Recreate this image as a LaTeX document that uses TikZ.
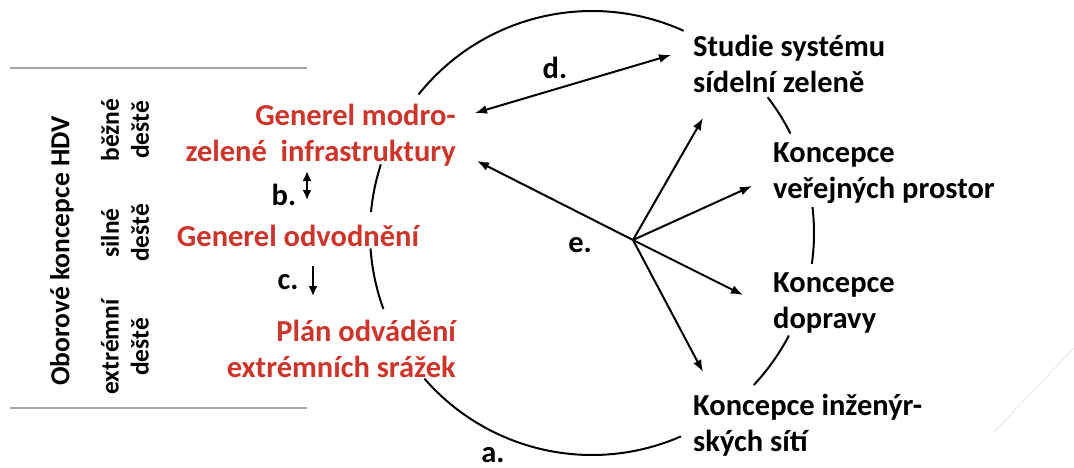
\documentclass[tikz,border=0pt]{standalone}
\usepackage{fontspec}
\setmainfont{Carlito}
\usetikzlibrary{arrows.meta}
\definecolor{tred}{RGB}{205,52,42}
\definecolor{rulegray}{RGB}{165,165,165}
\tikzset{
  big/.style={font=\fontsize{30.5}{36}\selectfont\bfseries, inner sep=0pt},
  small/.style={font=\fontsize{25.5}{30}\selectfont\bfseries, inner sep=0pt, rotate=90, align=center},
  redtxt/.style={big, text=tred},
  blktxt/.style={big, text=black, align=left, anchor=west},
  conn/.style={line width=2pt, -{Latex[length=12pt,width=9pt]}},
  dconn/.style={line width=2pt, {Latex[length=12pt,width=9pt]}-{Latex[length=12pt,width=9pt]}},
  ring/.style={line width=2pt},
  lbl/.style={big, text=black}
}
\begin{document}
\begin{tikzpicture}[x=1pt,y=1pt]
\useasboundingbox (0,0) rectangle (1074,467);
% left gray rules
\coordinate (r1a) at (10,399); \coordinate (r1b) at (307,399);
\coordinate (r2a) at (10,59);  \coordinate (r2b) at (307,59);
\draw[rulegray, line width=2pt] (r1a) -- (r1b);
\draw[rulegray, line width=2pt] (r2a) -- (r2b);
% rotated labels
\node[small, font=\fontsize{27.5}{30}\selectfont\bfseries] (hdv) at (62,216) {Oborové koncepce HDV};
\node[small] (bezne) at (125,337) {běžné\\deště};
\node[small] (silne) at (125,234) {silné\\deště};
\node[small] (extr) at (125,120) {extrémní\\deště};
% red nodes
\node[redtxt, align=right, anchor=east] (gmz) at (456,331.5) {Generel modro-\\zelené\ \ infrastruktury};
\node[redtxt] (go) at (298,231) {Generel odvodnění};
\node[redtxt, align=right, anchor=east] (plan) at (456,118.5) {Plán odvádění\\extrémních srážek};
% b, c arrows
\node[lbl] (b) at (284,272) {b.};
\coordinate (bt) at (307,296); \coordinate (bb) at (307,267);
\draw[line width=1.8pt, {Latex[length=10pt,width=9pt]}-{Latex[length=10pt,width=9pt]}] (bt) -- (bb);
\node[lbl] (c) at (288,185) {c.};
\coordinate (ct) at (313,201); \coordinate (cb) at (313,171);
\draw[line width=1.8pt, -{Latex[length=10pt,width=9pt]}] (ct) -- (cb);
% black nodes
\node[blktxt] (stud) at (693,403.5) {Studie systému\\sídelní zeleně};
\node[blktxt] (verej) at (773,293.5) {Koncepce\\veřejných prostor};
\node[blktxt] (dopr) at (773,163.5) {Koncepce\\dopravy};
\node[blktxt] (inz) at (693,41.5) {Koncepce inženýr-\\ských sítí};
% circle arcs
\coordinate (C) at (592,234);
\def\R{222}
\foreach \a/\b in {65.6/141.4, 26.6/37.7, -8/6.7, -43.2/-27.5, 221/293.6, 162/174.6, 184/200}{
  \draw[ring] (C) ++(\a:\R) arc[start angle=\a, end angle=\b, radius=\R];
}
% d arrow
\coordinate (dl) at (475,354); \coordinate (dr) at (671,412);
\draw[dconn] (dl) -- (dr);
\node[lbl] (d) at (555,399) {d.};
% e arrows
\coordinate (E) at (633,227);
\coordinate (e1) at (477,306);
\coordinate (e2) at (703,349);
\coordinate (e3) at (752,281);
\coordinate (e4) at (743,172);
\coordinate (e5) at (703,95);
\foreach \t in {e1,e2,e3,e4,e5}{\draw[conn] (E) -- (\t);}
\node[lbl] (e) at (580,222) {e.};
\node[lbl, anchor=base] (a) at (493,5) {a.};
% faint slide decoration
\coordinate (f1) at (1074,119); \coordinate (f2) at (993,34);
\draw[gray!15, line width=1.2pt] (f1) -- (f2);
\end{tikzpicture}
\end{document}
